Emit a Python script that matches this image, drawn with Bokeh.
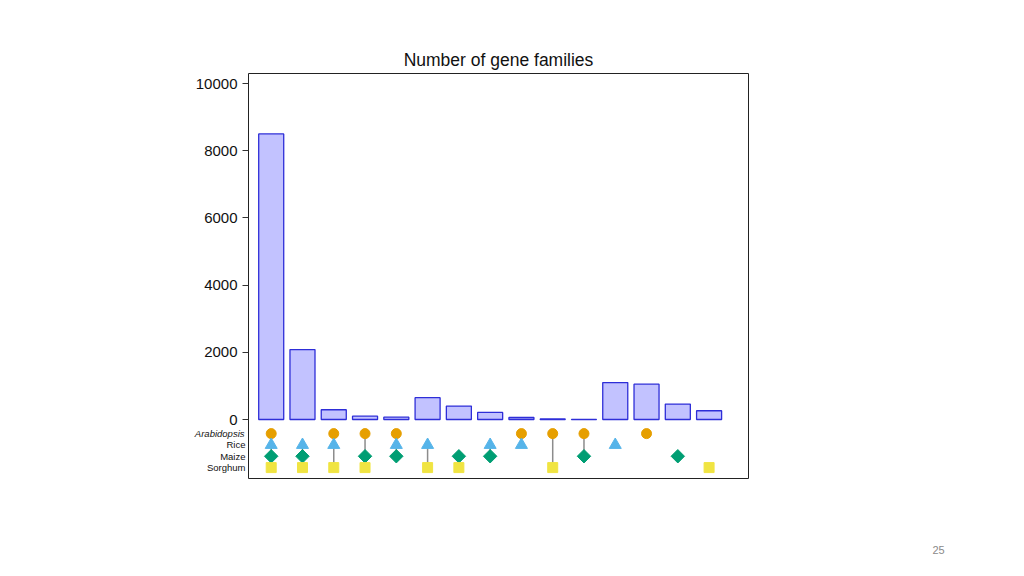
import math
from bokeh.plotting import figure
from bokeh.models import Range1d, FixedTicker, Label
from bokeh.embed import file_html
from bokeh.resources import INLINE

# ---- data ----
columns = list(range(1, 16))
family_counts = [8500, 2080, 290, 100, 70, 650, 400, 210, 60, 15, 2, 1100, 1050, 460, 260]
species = ["Arabidopsis", "Rice", "Maize", "Sorghum"]
species_colors = ["#E69F00", "#56B4E9", "#009E73", "#F0E442"]
species_markers = ["circle", "triangle", "square", "square"]
species_angles = [0, 0, math.pi / 4, 0]
species_sizes = [10, 12, 9.5, 10]
arabidopsis = [1, 0, 1, 1, 1, 0, 0, 0, 1, 1, 1, 0, 1, 0, 0]
rice        = [1, 1, 1, 0, 1, 1, 0, 1, 1, 0, 0, 1, 0, 0, 0]
maize       = [1, 1, 0, 1, 1, 0, 1, 1, 0, 0, 1, 0, 0, 1, 0]
sorghum     = [1, 1, 1, 1, 0, 1, 1, 0, 0, 1, 0, 0, 0, 0, 1]
membership = [arabidopsis, rice, maize, sorghum]
y_ticks = [0, 2000, 4000, 6000, 8000, 10000]
title_text = "Number of gene families"
page_number = "25"

# ---- layout constants ----
row_top = -420
row_step = 337
row_y = [row_top - i * row_step for i in range(len(species))]
x_start, x_end = 0.274, 16.26
W, H = 1016, 568
FRAME_L, FRAME_R, FRAME_T, FRAME_B = 248, 748, 73, 478
# each label added to the left side sits in its own stacked panel; offsets align them
label_panel_x = [102, 122, 147, 186]

FONT = "Liberation Sans"

p = figure(width=W, height=H, output_backend="svg", toolbar_location=None,
           x_range=Range1d(x_start, x_end), y_range=Range1d(-1756, 10298),
           min_border_left=FRAME_L, min_border_right=W - FRAME_R, min_border_top=FRAME_T,
           min_border_bottom=H - FRAME_B, title=title_text)
p.title.align = "center"
p.title.text_font = FONT
p.title.text_font_size = "17.5px"
p.title.text_font_style = "normal"
p.title.text_color = "#111111"
p.title.standoff = 7

p.xaxis.visible = False
p.grid.visible = False
p.outline_line_color = "#222222"
p.outline_line_width = 1

ax = p.yaxis[0]
ax.ticker = FixedTicker(ticks=y_ticks)
ax.major_label_text_font = FONT
ax.major_label_text_font_size = "15px"
ax.major_label_text_color = "#111111"
ax.axis_line_color = None
ax.major_tick_line_color = "#333333"
ax.major_tick_out = 6
ax.major_tick_in = 0
ax.minor_tick_line_color = None
ax.major_label_standoff = 5

p.vbar(x=columns, top=family_counts, width=0.8, bottom=0,
       fill_color="#C2C2FF", line_color="#2E2ED8", line_width=1.3)

seg_x, seg_y0, seg_y1 = [], [], []
for ci, c in enumerate(columns):
    ys = [row_y[si] for si in range(len(species)) if membership[si][ci]]
    if len(ys) > 1:
        seg_x.append(c)
        seg_y0.append(max(ys))
        seg_y1.append(min(ys))
p.segment(x0=seg_x, y0=seg_y0, x1=seg_x, y1=seg_y1, line_color="#8C8C8C", line_width=1.5)

for si, name in enumerate(species):
    xs = [c for ci, c in enumerate(columns) if membership[si][ci]]
    ys = [row_y[si]] * len(xs)
    p.scatter(x=xs, y=ys, marker=species_markers[si], size=species_sizes[si],
              angle=species_angles[si],
              fill_color=species_colors[si], line_color=species_colors[si])
    p.add_layout(Label(x=label_panel_x[si], y=row_y[si], x_units="screen", text=name,
                       text_font=FONT, text_font_size="9.5px",
                       text_font_style="italic" if si == 0 else "normal",
                       text_align="right", text_baseline="middle", text_color="#111111"),
                 "left")

p.add_layout(Label(x=938 - FRAME_L, y=FRAME_B - 550 + 9, x_units="screen", y_units="screen",
                   text=page_number, text_font=FONT, text_font_size="11px",
                   text_color="#8A8A8A", text_align="center", text_baseline="middle"),
             "below")

open("out.html", "w").write(file_html(p, INLINE))
